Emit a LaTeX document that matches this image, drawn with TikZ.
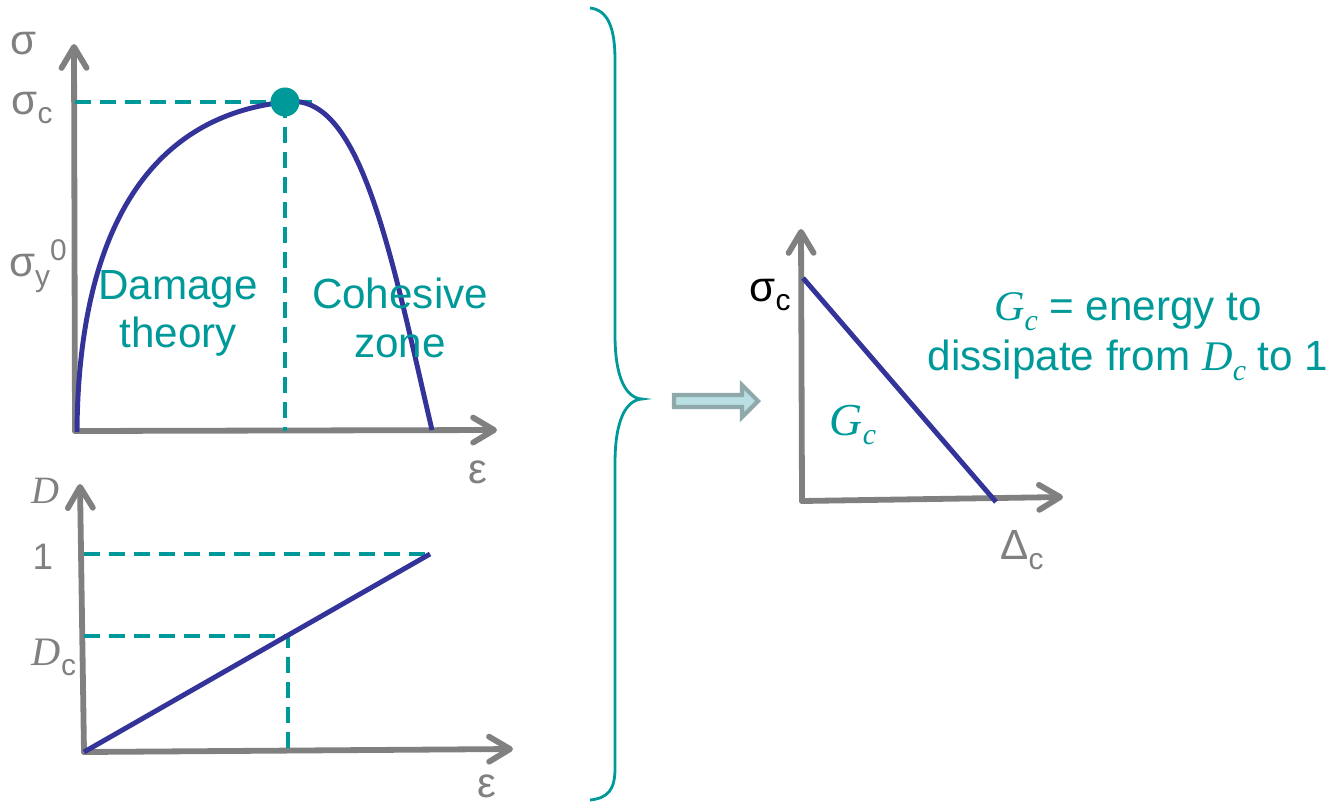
\documentclass[tikz,border=0pt]{standalone}
\usepackage{fontspec}
\setmainfont{Liberation Sans}
\newfontfamily\serifit{Liberation Serif}
\usetikzlibrary{arrows.meta,calc,positioning}

\definecolor{axisgray}{RGB}{128,128,128}
\definecolor{tealc}{RGB}{0,153,153}
\definecolor{curveblue}{RGB}{51,51,153}
\definecolor{arrowfill}{RGB}{185,223,228}
\definecolor{arrowedge}{RGB}{143,169,170}

\newcommand{\lowsub}[1]{\raisebox{-2.8pt}{\fontsize{8.5}{9}\selectfont #1}}
\newcommand{\itsym}[2]{{\serifit\itshape #1}\lowsub{\serifit\itshape #2}}

\tikzset{
    axis/.style={draw=axisgray, line width=1.65pt, line cap=round,
        -{Straight Barb[length=2.1mm,width=2.5mm,round]}},
    guide/.style={draw=tealc, line width=1.25pt, dash pattern=on 1.6mm off 0.9mm},
    curve/.style={draw=curveblue, line width=1.4pt},
    lbl/.style={text=axisgray, inner sep=0pt},
    zone/.style={text=tealc, align=center, inner sep=0pt, font=\fontsize{12}{13.7}\selectfont},
    blockarrow/.style={draw=arrowedge, fill=arrowfill, line width=1.2pt, line join=miter}
}

\begin{document}
\begin{tikzpicture}[x=0.01cm, y=-0.01cm, every node/.style={font=\fontsize{12}{14}\selectfont}]

  \tikzstyle{peakdot}=[circle, fill=tealc, inner sep=0pt, minimum size=0.29cm]

  \useasboundingbox (0,0) rectangle (1331,803);

  % stress - strain
  \coordinate (O1) at (75,431);
  \coordinate (Y1) at (74,44);
  \coordinate (X1) at (497,430);
  \coordinate (peak) at (285,102);
  \coordinate (sigend) at (312,102);
  \coordinate (end1) at (432,430);

  \draw[axis] (O1) -- (Y1);
  \draw[axis] (O1) -- (X1);
  \draw[guide] (peak -| O1) -- (sigend);
  \draw[guide] (peak) -- (peak |- O1);
  \draw[curve] (77,432) .. controls (78,280) and (120,120) .. (peak)
                        .. controls (360,90) and (390,250) .. (end1);
  \node[peakdot] (pk) at (peak) {};

  \node[lbl] (sig)  at (24,44)  {σ};
  \node[lbl] (sigc) at (32,108) {σ\lowsub{c}};
  \node[lbl] (sigy) at (38,266) {σ\lowsub{y}\raisebox{4.5pt}{\fontsize{8.5}{9}\selectfont 0}};
  \node[zone] (dmg) at (178,313) {Damage\\theory};
  \node[zone] (coh) at (400,318) {Cohesive\\zone};
  \node[lbl] (eps1) at (478,472) {ε};

  % damage - strain
  \coordinate (O2) at (84,752);
  \coordinate (Y2) at (80,484);
  \coordinate (X2) at (513,749);
  \coordinate (Dend) at (430,554);
  \coordinate (Dcpt) at (288,636);

  \draw[axis] (O2) -- (Y2);
  \draw[axis] (O2) -- (X2);
  \draw[guide] (Dend -| O2) -- (Dend);
  \draw[guide] (Dcpt -| O2) -- (Dcpt) -- (Dcpt |- O2);
  \draw[curve] (O2) -- (Dend);

  \node[lbl, font=\fontsize{11}{12}\selectfont] (Dlab) at (45,491) {\serifit\itshape D};
  \node[lbl, font=\fontsize{10.5}{12}\selectfont] (one) at (43,557) {1};
  \node[lbl, font=\fontsize{11.5}{13}\selectfont] (Dc) at (54,657) {{\serifit\itshape D}\lowsub{c}};
  \node[lbl] (eps2) at (487,786) {ε};

  % brace and arrow
  \draw[tealc, line width=0.8pt] (590,8) .. controls (608,10) and (615,28) .. (615,60)
     -- (615,335) .. controls (615,378) and (626,398) .. (642,399)
     .. controls (626,400) and (615,420) .. (615,463)
     -- (615,768) .. controls (615,790) and (608,798) .. (590,800);
  \draw[blockarrow] (674,395) -- (742,395) -- (742,385) -- (758,401)
     -- (742,417) -- (742,407) -- (674,407) -- cycle;

  % cohesive law
  \coordinate (O3) at (802,501);
  \coordinate (Y3) at (801,229);
  \coordinate (X3) at (1063,497);
  \coordinate (stop) at (803,278);
  \coordinate (dc3) at (996,502);

  \draw[axis] (O3) -- (Y3);
  \draw[axis] (O3) -- (X3);
  \draw[curve] (stop) -- (dc3);

  \node[inner sep=0pt] (sigc3) at (770,295) {σ\lowsub{c}};
  \node[lbl] (Delc) at (1022,550) {Δ\lowsub{c}};
  \node[text=tealc, inner sep=0pt, font=\fontsize{13}{15}\selectfont] (Gc) at (853,425) {\itsym{G}{c}};
  \node[zone, font=\fontsize{12}{14.2}\selectfont] (Gtext) at (1128,337)
       {\itsym{G}{c} = energy to\\dissipate from \itsym{D}{c} to 1};
\end{tikzpicture}
\end{document}
